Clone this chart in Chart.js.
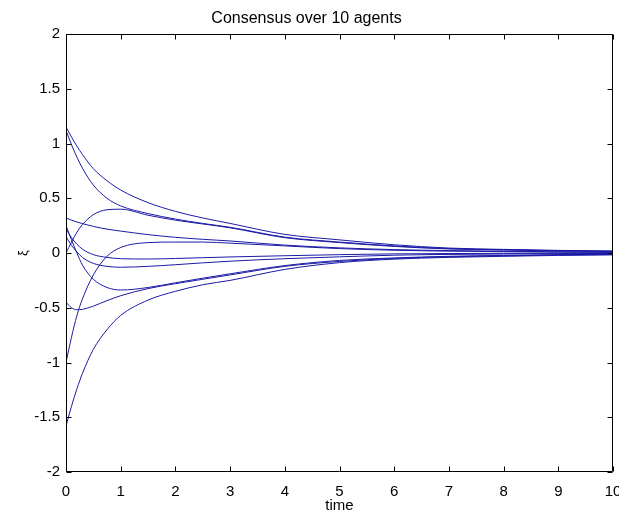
<!DOCTYPE html>
<html>
<head>
<meta charset="utf-8">
<script src="https://cdn.jsdelivr.net/npm/chart.js@4.4.0/dist/chart.umd.min.js"></script>
<style>
  html, body { margin: 0; padding: 0; background: #fff; }
  #wrap { width: 619px; height: 512px; }
</style>
</head>
<body>
<div id="wrap"><canvas id="chart" width="619" height="512"></canvas></div>
<script>
// sample times (x)
const times = [0, 0.1, 0.2, 0.3, 0.5, 0.75, 1, 1.5, 2, 2.5, 3, 4, 5, 6, 7, 8, 9, 10];

// state of each of the 10 agents at those times
const agent1  = [1.15, 1.06, 0.975, 0.9, 0.77, 0.66, 0.575, 0.46, 0.38, 0.32, 0.27, 0.17, 0.12, 0.075, 0.045, 0.033, 0.024, 0.018];
const agent2  = [1.12, 0.99, 0.875, 0.775, 0.62, 0.5, 0.43, 0.36, 0.31, 0.27, 0.235, 0.145, 0.1, 0.065, 0.04, 0.03, 0.021, 0.016];
const agent3  = [0.0, 0.1, 0.19, 0.26, 0.35, 0.395, 0.4, 0.345, 0.3, 0.265, 0.23, 0.14, 0.095, 0.06, 0.037, 0.027, 0.019, 0.014];
const agent4  = [0.32, 0.3, 0.283, 0.268, 0.243, 0.218, 0.2, 0.168, 0.143, 0.125, 0.11, 0.072, 0.047, 0.031, 0.022, 0.016, 0.011, 0.008];
const agent5  = [-1.0, -0.77, -0.57, -0.42, -0.2, -0.03, 0.05, 0.095, 0.1, 0.1, 0.09, 0.065, 0.04, 0.025, 0.017, 0.012, 0.008, 0.006];
const agent6  = [0.22, 0.14, 0.08, 0.035, -0.015, -0.04, -0.052, -0.055, -0.05, -0.043, -0.036, -0.025, -0.015, -0.008, -0.005, -0.003, -0.002, -0.001];
const agent7  = [0.15, 0.07, 0.01, -0.04, -0.095, -0.122, -0.13, -0.122, -0.107, -0.09, -0.075, -0.052, -0.035, -0.02, -0.013, -0.009, -0.006, -0.004];
const agent8  = [0.25, 0.12, 0.0, -0.11, -0.24, -0.315, -0.338, -0.315, -0.272, -0.23, -0.19, -0.115, -0.068, -0.045, -0.03, -0.022, -0.015, -0.011];
const agent9  = [-0.45, -0.5, -0.518, -0.515, -0.485, -0.435, -0.39, -0.325, -0.28, -0.24, -0.2, -0.122, -0.077, -0.05, -0.034, -0.026, -0.018, -0.014];
const agent10 = [-1.58, -1.4, -1.24, -1.1, -0.88, -0.7, -0.57, -0.43, -0.35, -0.29, -0.25, -0.15, -0.088, -0.056, -0.04, -0.03, -0.022, -0.017];

const agents = [agent1, agent2, agent3, agent4, agent5, agent6, agent7, agent8, agent9, agent10];

const xTicks = [0, 1, 2, 3, 4, 5, 6, 7, 8, 9, 10];
const yTicks = [-2, -1.5, -1, -0.5, 0, 0.5, 1, 1.5, 2];

const FONT = "'Liberation Sans', Arial, Helvetica, sans-serif";
const LINE = '#1a1aa6';

// matlab style box with ticks pointing inward
const boxTicks = {
  id: 'boxTicks',
  afterDraw(chart) {
    const { ctx, chartArea: a, scales: { x, y } } = chart;
    const len = 5;
    ctx.save();
    ctx.strokeStyle = '#000';
    ctx.lineWidth = 1;
    ctx.beginPath();
    const L = Math.round(a.left) + 0.5, R = Math.round(a.right) - 0.5;
    const T = Math.round(a.top) + 0.5, B = Math.round(a.bottom) - 0.5;
    ctx.rect(L, T, R - L, B - T);
    xTicks.forEach(v => {
      const px = Math.round(x.getPixelForValue(v)) + 0.5;
      ctx.moveTo(px, B); ctx.lineTo(px, B - len);
      ctx.moveTo(px, T); ctx.lineTo(px, T + len);
    });
    yTicks.forEach(v => {
      const py = Math.round(y.getPixelForValue(v)) + 0.5;
      ctx.moveTo(L, py); ctx.lineTo(L + len, py);
      ctx.moveTo(R, py); ctx.lineTo(R - len, py);
    });
    ctx.stroke();
    ctx.restore();
  }
};

new Chart(document.getElementById('chart'), {
  type: 'line',
  data: {
    datasets: agents.map((vals, i) => ({
      label: 'agent ' + (i + 1),
      data: times.map((t, j) => ({ x: t, y: vals[j] })),
      borderColor: LINE,
      borderWidth: 1,
      pointRadius: 0,
      fill: false,
      cubicInterpolationMode: 'monotone'
    }))
  },
  options: {
    responsive: false,
    animation: false,
    layout: { padding: { left: 0, right: 6, top: 0, bottom: 0 } },
    plugins: {
      legend: { display: false },
      tooltip: { enabled: false },
      title: {
        display: true,
        text: 'Consensus over 10 agents',
        color: '#000',
        font: { family: FONT, size: 16, weight: 'normal', lineHeight: 1.25 },
        padding: { top: 9, bottom: 5 }
      }
    },
    scales: {
      x: {
        type: 'linear',
        min: 0,
        max: 10,
        afterBuildTicks: s => { s.ticks = xTicks.map(v => ({ value: v })); },
        afterFit: s => { s.height = 40; s.paddingLeft = 0; s.paddingRight = 0; },
        grid: { display: false, drawTicks: false },
        border: { display: false },
        ticks: {
          color: '#000',
          padding: 11,
          maxRotation: 0,
          autoSkip: false,
          font: { family: FONT, size: 15 },
          callback: v => String(v)
        },
        title: {
          display: true,
          text: 'time',
          color: '#000',
          font: { family: FONT, size: 15 },
          padding: { top: 0, bottom: -3 }
        }
      },
      y: {
        type: 'linear',
        min: -2,
        max: 2,
        afterBuildTicks: s => { s.ticks = yTicks.map(v => ({ value: v })); },
        afterFit: s => { s.width = 66; },
        grid: { display: false, drawTicks: false },
        border: { display: false },
        ticks: {
          color: '#000',
          padding: 6,
          autoSkip: false,
          font: { family: FONT, size: 15 },
          callback: v => String(v)
        },
        title: {
          display: true,
          text: 'ξ',
          color: '#000',
          font: { family: FONT, size: 13 },
          padding: { top: 16, bottom: 0 }
        }
      }
    }
  },
  plugins: [boxTicks]
});
</script>
</body>
</html>
